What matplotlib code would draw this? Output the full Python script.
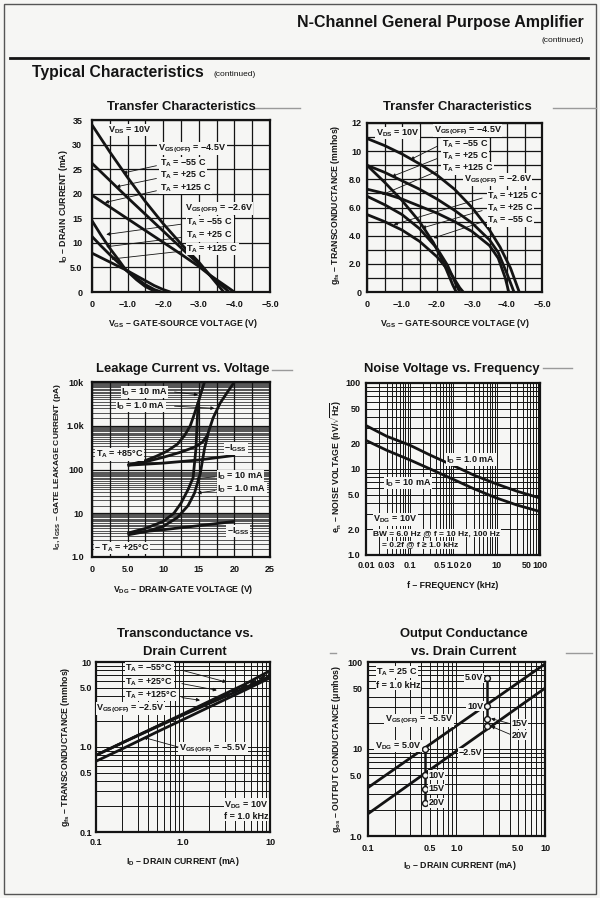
import numpy as np
import matplotlib
matplotlib.use('Agg')
import matplotlib.pyplot as plt
from matplotlib.lines import Line2D
from matplotlib.patches import Rectangle
from matplotlib.ticker import MultipleLocator, LogLocator, NullFormatter

plt.rcParams['font.family'] = ['Liberation Sans Narrow', 'Liberation Sans', 'DejaVu Sans']
plt.rcParams['mathtext.fontset'] = 'custom'
plt.rcParams['mathtext.rm'] = 'Liberation Sans'
plt.rcParams['mathtext.bf'] = 'Liberation Sans:bold'
plt.rcParams['mathtext.default'] = 'bf'

ink = '#141414'
paper = '#f6f6f4'

# --- transfer characteristics, I_D (mA) vs V_GS (V) ---
vgs_a = [0, -0.5, -1.0, -1.5, -2.0, -2.5, -3.0, -3.3, -3.55, -3.7]
id_45_m55 = [34, 28.5, 23.3, 18.4, 13.9, 9.8, 6.1, 3.5, 1.3, 0]
vgs_b = [0, -0.5, -1.0, -1.5, -2.0, -2.5, -3.0, -3.3, -3.6, -3.85]
id_45_p25 = [26.2, 22.7, 19.2, 15.8, 12.4, 9.0, 5.7, 3.5, 1.6, 0]
vgs_c = [0, -0.5, -1.0, -1.5, -2.0, -2.5, -3.0, -3.3, -3.6, -4.0]
id_45_p125 = [19.7, 17.3, 14.9, 12.5, 10.1, 7.7, 5.2, 3.5, 2.0, 0]
vgs_d = [0, -0.25, -0.5, -0.75, -0.95, -1.25, -1.5, -1.75, -1.85]
id_26_m55 = [14.5, 11.6, 8.9, 6.5, 4.5, 2.5, 1.1, 0.2, 0]
vgs_e = [0, -0.25, -0.5, -0.75, -0.95, -1.25, -1.5, -1.75, -1.95]
id_26_p25 = [11.3, 9.4, 7.6, 5.9, 4.5, 2.8, 1.5, 0.5, 0]
vgs_f = [0, -0.25, -0.5, -0.75, -0.95, -1.25, -1.5, -1.75, -2.0, -2.2]
id_26_p125 = [7.9, 7.0, 6.1, 5.2, 4.5, 3.3, 2.3, 1.3, 0.5, 0]

# --- transfer characteristics, g_fs (mmhos) vs V_GS (V) ---
vg_g1 = [0, -0.5, -1.0, -1.5, -2.0, -2.5, -3.0, -3.5, -3.8, -4.1, -4.35]
gfs_45_m55 = [10.9, 10.4, 9.8, 9.1, 8.3, 7.3, 6.0, 4.4, 3.2, 1.7, 0]
vg_g2 = [0, -0.5, -1.0, -1.5, -2.0, -2.5, -3.0, -3.5, -3.75, -4.0, -4.2]
gfs_45_p25 = [9.0, 8.5, 7.9, 7.3, 6.6, 5.8, 4.9, 3.7, 2.8, 1.3, 0]
vg_g3 = [0, -0.5, -1.0, -1.5, -2.0, -2.5, -3.0, -3.5, -3.75, -3.95, -4.05]
gfs_45_p125 = [7.3, 7.0, 6.6, 6.1, 5.6, 5.0, 4.3, 3.3, 2.4, 1.0, 0]
vg_h1 = [0, -0.5, -1.0, -1.5, -1.9, -2.2, -2.45, -2.55]
gfs_26_m55 = [9.0, 7.8, 6.5, 5.0, 3.5, 2.0, 0.5, 0]
vg_h2 = [0, -0.5, -1.0, -1.5, -2.0, -2.3, -2.55, -2.65]
gfs_26_p25 = [6.8, 6.2, 5.5, 4.5, 3.1, 1.9, 0.5, 0]
vg_h3 = [0, -0.5, -1.0, -1.5, -2.0, -2.4, -2.65, -2.75]
gfs_26_p125 = [5.5, 5.0, 4.4, 3.6, 2.5, 1.3, 0.3, 0]

# --- leakage current (pA) vs V_DG (V) ---
vdg_igss = [5, 10, 15, 20]
igss_85 = [125, 140, 165, 210]
igss_25 = [3.5, 4.2, 5.2, 6.5]
vdg_85_1 = [5, 7.5, 10, 12.5, 14.5, 15.5, 16.2, 17, 18, 19, 20]
ig_85_1 = [125, 150, 190, 250, 330, 420, 600, 1500, 3300, 5800, 10000]
vdg_85_10 = [5, 7.5, 9, 10.5, 12, 13, 13.8, 14.3, 14.8, 15.3, 15.8]
ig_85_10 = [125, 160, 200, 260, 380, 600, 1000, 1700, 3000, 5500, 10000]
vdg_25_10 = [5, 7.5, 10, 11.5, 12.5, 13.5, 14.2, 14.6, 14.9]
ig_25_10 = [3.5, 4.5, 6.5, 10, 17, 35, 65, 300, 3400]
vdg_25_1 = [5, 7.5, 10, 12, 13.5, 14.4, 15.2, 15.8, 16.3]
ig_25_1 = [3.2, 3.8, 5, 8, 15, 29, 80, 300, 650]

# --- noise voltage (nV/rtHz) vs frequency (kHz) ---
freq = [0.01, 0.03, 0.1, 0.3, 1, 3, 10, 30, 100]
en_1ma = [32, 24, 19, 14.5, 11, 8.5, 6.7, 5.5, 4.6]
en_10ma = [21.5, 16.5, 12.8, 10, 7.6, 5.9, 4.6, 3.8, 3.2]

# --- g_fs (mmhos) vs I_D (mA) ---
id_fs = [0.1, 0.2, 0.5, 1, 2, 5, 10]
gfs_25v_m55 = [0.80, 1.12, 1.75, 2.45, 3.45, 5.4, 7.9]
gfs_25v_p25 = [0.80, 1.12, 1.75, 2.42, 3.35, 5.1, 7.3]
gfs_25v_p125 = [0.80, 1.12, 1.72, 2.38, 3.25, 4.9, 6.8]
gfs_55v = [0.68, 0.95, 1.5, 2.1, 2.95, 4.6, 6.5]

# --- g_os (umhos) vs I_D (mA) ---
id_os = [0.1, 1.0, 10]
gos_55v = [3.6, 18.5, 95]
gos_25v = [1.8, 9.5, 50]
id_pts = [0.44, 2.2]
vdg_pts = ['5.0V', '10V', '15V', '20V']
gos_at_044 = [10.1, 5.0, 3.5, 2.4]
gos_at_22 = [66, 31, 22.4, 18.3]

W, H = 600, 898
fig = plt.figure(figsize=(W / 100, H / 100), dpi=100, facecolor=paper)


def box(x0, y0, x1, y1, xpad=4, ypad=4):
    ax = fig.add_axes([x0 / W, 1 - y1 / H, (x1 - x0) / W, (y1 - y0) / H])
    ax.set_facecolor(paper)
    for sp in ax.spines.values():
        sp.set_linewidth(1.6)
        sp.set_color(ink)
    ax.tick_params(which='both', length=0, labelsize=6.5, colors=ink)
    ax.tick_params(axis='x', pad=xpad)
    ax.tick_params(axis='y', pad=ypad)
    ax.set_axisbelow(True)
    return ax


def ftext(x, y, s, **kw):
    kw.setdefault('color', ink)
    fig.text(x / W, 1 - y / H, s, **kw)


def fline(x0, x1, y, lw=1.0, color='#9a9a9a'):
    fig.add_artist(Line2D([x0 / W, x1 / W], [1 - y / H] * 2, lw=lw, color=color))


def label(ax, x, y, s, ha='left', size=6.5):
    ax.text(x, y, s, ha=ha, va='center', fontsize=size, fontweight='bold', color=ink,
            bbox=dict(facecolor=paper, edgecolor='none', pad=0.4), zorder=5)


def leader(ax, start, tip):
    ax.annotate('', xy=tip, xytext=start, zorder=6,
                arrowprops=dict(arrowstyle='-|>', lw=0.6, color=ink, mutation_scale=5,
                                shrinkA=0, shrinkB=0))


def ticks(ax, xt, xl, yt, yl):
    ax.set_xticks(xt, xl, fontweight='bold')
    ax.set_yticks(yt, yl, fontweight='bold')


def loggrid(ax):
    for axis in [ax.xaxis, ax.yaxis]:
        axis.set_minor_locator(LogLocator(base=10, subs=np.arange(2, 10)))
        axis.set_minor_formatter(NullFormatter())
    ax.grid(which='both', color=ink, lw=0.7)


curve = dict(color=ink, lw=2.0, solid_capstyle='butt', zorder=3)
M = '\u2212'

# page frame and header
fig.add_artist(Rectangle((4 / W, 4 / H), 592 / W, 890 / H, fill=False, lw=1.0,
                         edgecolor='#555555', transform=fig.transFigure))
ftext(584, 23, 'N-Channel General Purpose Amplifier', ha='right', va='center',
      fontsize=11.5, fontweight='bold', family='Liberation Sans')
ftext(584, 40, '(continued)', ha='right', va='center', fontsize=6, family='Liberation Sans')
fline(10, 588, 58, lw=2.0, color=ink)
ftext(32, 73, 'Typical Characteristics', ha='left', va='center', fontsize=11.3,
      fontweight='bold', family='Liberation Sans')
ftext(213, 74, '(continued)', ha='left', va='center', fontsize=6, family='Liberation Sans')

# faint section rules
fline(254, 300, 108)
fline(553, 596, 108)
fline(272, 292, 370)
fline(543, 572, 368)
fline(566, 592, 653)
fline(330, 336, 653)

title_kw = dict(ha='center', va='center', fontsize=9.4, fontweight='bold', family='Liberation Sans')
axlab_kw = dict(ha='center', va='center', fontsize=6.3, fontweight='bold')

# ---------- 1: transfer characteristics (I_D) ----------
ax = box(92, 120, 270, 292, xpad=6, ypad=7)
ax.set_xlim(0, -5)
ax.set_ylim(0, 35)
ticks(ax, [0, -1, -2, -3, -4, -5], ['0', M + '1.0', M + '2.0', M + '3.0', M + '4.0', M + '5.0'],
      [0, 5, 10, 15, 20, 25, 30, 35], ['0', '5.0', '10', '15', '20', '25', '30', '35'])
ax.xaxis.set_minor_locator(MultipleLocator(0.5))
ax.grid(which='both', color=ink, lw=0.9)
for xv, yv in [(vgs_a, id_45_m55), (vgs_b, id_45_p25), (vgs_c, id_45_p125),
               (vgs_d, id_26_m55), (vgs_e, id_26_p25), (vgs_f, id_26_p125)]:
    ax.plot(xv, yv, **curve)
label(ax, -0.45, 33, 'V$_{DS}$ = 10V')
label(ax, -1.85, 29.2, 'V$_{GS(OFF)}$ = ' + M + '4.5V')
label(ax, -1.9, 26.2, 'T$_A$ = ' + M + '55 C')
label(ax, -1.9, 23.7, 'T$_A$ = +25 C')
label(ax, -1.9, 21.2, 'T$_A$ = +125 C')
leader(ax, (-1.81, 25.7), (-0.87, 24.2))
leader(ax, (-1.81, 23.1), (-0.68, 21.4))
leader(ax, (-1.81, 20.6), (-0.36, 18.2))
label(ax, -2.6, 17.0, 'V$_{GS(OFF)}$ = ' + M + '2.6V')
label(ax, -2.65, 14.2, 'T$_A$ = ' + M + '55 C')
label(ax, -2.65, 11.5, 'T$_A$ = +25 C')
label(ax, -2.65, 8.75, 'T$_A$ = +125 C')
leader(ax, (-2.51, 13.8), (-0.40, 11.7))
leader(ax, (-2.51, 11.1), (-0.40, 9.2))
leader(ax, (-2.51, 8.3), (-0.54, 6.7))
ftext(181, 107, 'Transfer Characteristics', **title_kw)
ftext(63, 206, 'I$_D$ ' + '\u2013 DRAIN CURRENT (mA)', rotation=90, **axlab_kw)
ftext(183, 324, 'V$_{GS}$ \u2013 GATE-SOURCE VOLTAGE (V)', **axlab_kw)

# ---------- 2: transfer characteristics (g_fs) ----------
ax = box(367, 123, 542, 292, xpad=6, ypad=4)
ax.set_xlim(0, -5)
ax.set_ylim(0, 12)
ticks(ax, [0, -1, -2, -3, -4, -5], ['0', M + '1.0', M + '2.0', M + '3.0', M + '4.0', M + '5.0'],
      [0, 2, 4, 6, 8, 10, 12], ['0', '2.0', '4.0', '6.0', '8.0', '10', '12'])
ax.xaxis.set_minor_locator(MultipleLocator(0.5))
ax.yaxis.set_minor_locator(MultipleLocator(1.0))
ax.grid(which='both', color=ink, lw=0.9)
for xv, yv in [(vg_g1, gfs_45_m55), (vg_g2, gfs_45_p25), (vg_g3, gfs_45_p125),
               (vg_h1, gfs_26_m55), (vg_h2, gfs_26_p25), (vg_h3, gfs_26_p125)]:
    ax.plot(xv, yv, **curve)
label(ax, -0.25, 11.3, 'V$_{DS}$ = 10V')
label(ax, -1.9, 11.45, 'V$_{GS(OFF)}$ = ' + M + '4.5V')
label(ax, -2.14, 10.5, 'T$_A$ = ' + M + '55 C')
label(ax, -2.14, 9.63, 'T$_A$ = +25 C')
label(ax, -2.14, 8.76, 'T$_A$ = +125 C')
leader(ax, (-2.0, 10.34), (-1.24, 9.4))
leader(ax, (-2.0, 9.47), (-0.71, 8.2))
leader(ax, (-2.0, 8.57), (-0.43, 6.9))
label(ax, -2.76, 7.98, 'V$_{GS(OFF)}$ = ' + M + '2.6V')
label(ax, -3.43, 6.8, 'T$_A$ = +125 C')
label(ax, -3.43, 5.96, 'T$_A$ = +25 C')
label(ax, -3.43, 5.07, 'T$_A$ = ' + M + '55 C')
leader(ax, (-3.29, 6.67), (-0.76, 4.78))
leader(ax, (-3.29, 5.78), (-1.57, 4.54))
leader(ax, (-3.29, 4.97), (-1.9, 3.83))
ftext(457, 107, 'Transfer Characteristics', **title_kw)
ftext(335, 205, 'g$_{fs}$ \u2013 TRANSCONDUCTANCE (mmhos)', rotation=90, **axlab_kw)
ftext(455, 324, 'V$_{GS}$ \u2013 GATE-SOURCE VOLTAGE (V)', **axlab_kw)

# ---------- 3: leakage current vs voltage ----------
ax = box(92, 382, 270, 557, xpad=6, ypad=6)
ax.set_xlim(0, 25)
ax.set_yscale('log')
ax.set_ylim(1, 1e4)
ticks(ax, [0, 5, 10, 15, 20, 25], ['0', '5.0', '10', '15', '20', '25'],
      [1, 10, 100, 1000, 10000], ['1.0', '10', '100', '1.0k', '10k'])
ax.xaxis.set_minor_locator(MultipleLocator(2.5))
ax.yaxis.set_minor_locator(LogLocator(base=10, subs=np.arange(1.5, 10, 0.5)))
ax.yaxis.set_minor_formatter(NullFormatter())
ax.grid(which='major', color=ink, lw=0.9)
ax.grid(which='minor', axis='y', color=ink, lw=0.5)
ax.grid(which='minor', axis='x', color=ink, lw=0.9)
for xv, yv in [(vdg_igss, igss_85), (vdg_igss, igss_25), (vdg_85_1, ig_85_1),
               (vdg_85_10, ig_85_10), (vdg_25_10, ig_25_10), (vdg_25_1, ig_25_1)]:
    ax.plot(xv, yv, **curve)
label(ax, 4.1, 5900, 'I$_D$ = 10 mA')
label(ax, 3.4, 2800, 'I$_D$ = 1.0 mA')
leader(ax, (11.6, 5900), (14.9, 5100))
leader(ax, (11.6, 2800), (17.2, 2500))
label(ax, 0.5, 220, 'T$_A$ = +85\u00b0C')
label(ax, 18.6, 300, '\u2013I$_{GSS}$')
label(ax, 17.6, 70, 'I$_D$ = 10 mA')
label(ax, 17.6, 35, 'I$_D$ = 1.0 mA')
leader(ax, (17.3, 68), (14.6, 62))
leader(ax, (17.3, 33), (14.8, 29))
label(ax, 18.9, 3.9, '\u2013I$_{GSS}$')
label(ax, 0.3, 1.6, '\u2013 T$_A$ = +25\u00b0C')
ftext(183, 369, 'Leakage Current vs. Voltage', **title_kw)
ftext(58, 467, 'I$_G$, I$_{GSS}$ \u2013 GATE LEAKAGE CURRENT (pA)', rotation=90,
      ha='center', va='center', fontsize=6.0, fontweight='bold')
ftext(183, 590, 'V$_{DG}$ \u2013 DRAIN-GATE VOLTAGE (V)', **axlab_kw)

# ---------- 4: noise voltage vs frequency ----------
ax = box(366, 383, 540, 555, xpad=4, ypad=4)
ax.set_xscale('log')
ax.set_yscale('log')
ax.set_xlim(0.01, 100)
ax.set_ylim(1, 100)
loggrid(ax)
ticks(ax, [0.01, 0.03, 0.1, 0.5, 1, 2, 10, 50, 100],
      ['0.01', '0.03', '0.1', '0.5', '1.0', '2.0', '10', '50', '100'],
      [1, 2, 5, 10, 20, 50, 100], ['1.0', '2.0', '5.0', '10', '20', '50', '100'])
ax.grid(which='both', color=ink, lw=0.7)
ax.plot(freq, en_1ma, **curve)
ax.plot(freq, en_10ma, **curve)
label(ax, 0.7, 12.8, 'I$_D$ = 1.0 mA')
label(ax, 0.027, 6.84, 'I$_D$ = 10 mA')
label(ax, 0.0147, 2.6, 'V$_{DG}$ = 10V')
label(ax, 0.0147, 1.79, 'BW = 6.0 Hz @ f = 10 Hz, 100 Hz', size=6)
label(ax, 0.0235, 1.31, '= 0.2f @ f \u2265 1.0 kHz', size=6)
ftext(452, 369, 'Noise Voltage vs. Frequency', **title_kw)
ftext(336, 466, 'e$_n$ \u2013 NOISE VOLTAGE (nV/$\\sqrt{Hz}$)', rotation=90, **axlab_kw)
ftext(453, 585, 'f \u2013 FREQUENCY (kHz)', **axlab_kw)

# ---------- 5: transconductance vs drain current ----------
ax = box(96, 662, 270, 832, xpad=4, ypad=3)
ax.set_xscale('log')
ax.set_yscale('log')
ax.set_xlim(0.1, 10)
ax.set_ylim(0.1, 10)
loggrid(ax)
ticks(ax, [0.1, 1, 10], ['0.1', '1.0', '10'],
      [0.1, 0.5, 1, 5, 10], ['0.1', '0.5', '1.0', '5.0', '10'])
ax.plot(id_fs, gfs_55v, **curve)
ax.plot(id_fs, gfs_25v_p125, **curve)
ax.plot(id_fs, gfs_25v_p25, color=ink, lw=1.6, dashes=(3, 1.5), zorder=3)
ax.plot(id_fs, gfs_25v_m55, **curve)
label(ax, 0.217, 8.36, 'T$_A$ = ' + M + '55\u00b0C')
label(ax, 0.217, 5.83, 'T$_A$ = +25\u00b0C')
label(ax, 0.217, 4.07, 'T$_A$ = +125\u00b0C')
leader(ax, (0.97, 8.0), (3.17, 5.8))
leader(ax, (0.97, 5.57), (2.45, 4.65))
leader(ax, (0.97, 3.81), (1.57, 3.55))
label(ax, 0.101, 2.84, 'V$_{GS(OFF)}$ = ' + M + '2.5V')
label(ax, 0.9, 0.96, 'V$_{GS(OFF)}$ = ' + M + '5.5V')
leader(ax, (0.88, 1.0), (0.35, 1.3))
label(ax, 9.6, 0.209, 'V$_{DG}$ = 10V', ha='right')
label(ax, 9.6, 0.153, 'f = 1.0 kHz', ha='right')
ftext(185, 634, 'Transconductance vs.', **title_kw)
ftext(185, 652, 'Drain Current', **title_kw)
ftext(65, 747, 'g$_{fs}$ \u2013 TRANSCONDUCTANCE (mmhos)', rotation=90, **axlab_kw)
ftext(183, 862, 'I$_D$ \u2013 DRAIN CURRENT (mA)', **axlab_kw)

# ---------- 6: output conductance vs drain current ----------
ax = box(368, 662, 545, 836, xpad=6, ypad=4)
ax.set_xscale('log')
ax.set_yscale('log')
ax.set_xlim(0.1, 10)
ax.set_ylim(1, 100)
loggrid(ax)
ticks(ax, [0.1, 0.5, 1, 5, 10], ['0.1', '0.5', '1.0', '5.0', '10'],
      [1, 5, 10, 50, 100], ['1.0', '5.0', '10', '50', '100'])
ax.plot(id_os, gos_55v, **curve)
ax.plot(id_os, gos_25v, **curve)
for xi, gv in zip(id_pts, [gos_at_044, gos_at_22]):
    ax.plot([xi] * len(gv), gv, color=ink, lw=1.8, zorder=3)
    ax.plot([xi] * len(gv), gv, ls='none', marker='o', ms=4.2, mfc=paper, mec=ink,
            mew=1.0, zorder=4)
label(ax, 0.124, 76.8, 'T$_A$ = 25 C')
label(ax, 0.124, 54, 'f = 1.0 kHz')
label(ax, 2.0, gos_at_22[0], vdg_pts[0], ha='right')
label(ax, 2.0, gos_at_22[1], vdg_pts[1], ha='right')
label(ax, 4.2, 19.6, vdg_pts[2])
label(ax, 4.2, 14.4, vdg_pts[3])
leader(ax, (4.0, 19.6), (2.45, gos_at_22[2]))
leader(ax, (4.0, 14.8), (2.45, gos_at_22[3]))
label(ax, 0.155, 21.4, 'V$_{GS(OFF)}$ = ' + M + '5.5V')
label(ax, 0.40, 10.8, 'V$_{DG}$ = 5.0V', ha='right')
label(ax, 1.05, 9.0, M + '2.5V')
label(ax, 0.48, gos_at_044[1], vdg_pts[1])
label(ax, 0.48, gos_at_044[2], vdg_pts[2])
label(ax, 0.48, gos_at_044[3], vdg_pts[3])
ftext(464, 634, 'Output Conductance', **title_kw)
ftext(464, 652, 'vs. Drain Current', **title_kw)
ftext(336, 749, 'g$_{os}$ \u2013 OUTPUT CONDUCTANCE (\u03bcmhos)', rotation=90, **axlab_kw)
ftext(460, 866, 'I$_D$ \u2013 DRAIN CURRENT (mA)', **axlab_kw)

fig.savefig('out.png', dpi=100, facecolor=paper)
